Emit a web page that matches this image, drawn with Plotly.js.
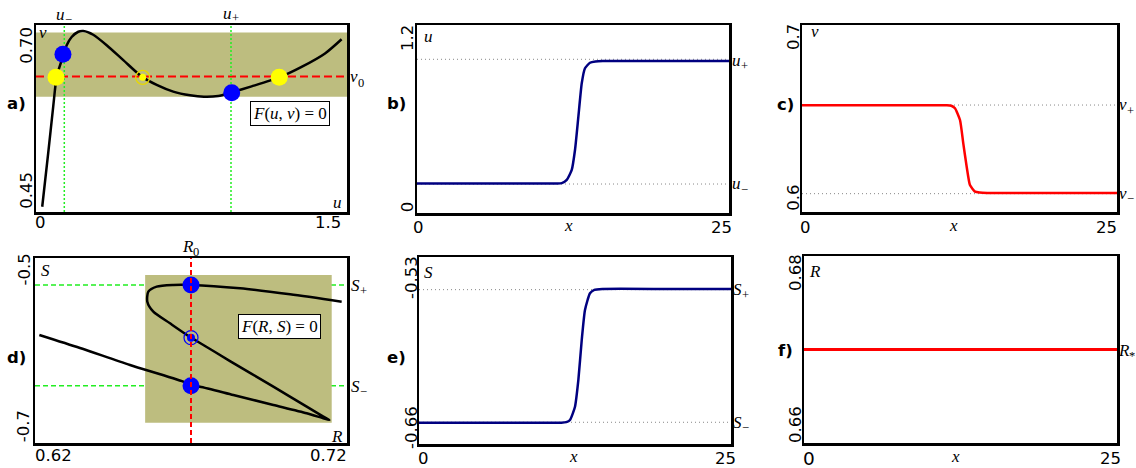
<!DOCTYPE html>
<html><head><meta charset="utf-8">
<script src="https://cdn.plot.ly/plotly-3.0.1.min.js"></script>
<style>html,body{margin:0;padding:0;background:#fff}#chart{width:1136px;height:468px}</style>
</head><body><div id="chart"></div>
<script>
// ---------- Panel a: nullcline F(u,v)=0 ----------
const aU = [0.030,0.059,0.083,0.100,0.124,0.148,0.172,0.204,0.228,0.276,0.341,0.421,0.510,0.582,0.662,0.743,0.810,0.879,0.944,1.040,1.173,1.281,1.394,1.474];
const aV = [0.457,0.529,0.591,0.631,0.653,0.673,0.684,0.691,0.692,0.687,0.673,0.653,0.631,0.620,0.611,0.606,0.604,0.605,0.610,0.618,0.630,0.644,0.662,0.681];
const aBand = [0.604, 0.690];
const aV0 = 0.631;
const aUminus = 0.1365, aUplus = 0.9405;
const aBlueU = [0.130, 0.944], aBlueV = [0.661, 0.6095];
const aYellowU = [0.0965, 1.173], aYellowV = [0.630, 0.630];
const aMidU = 0.5145, aMidV = 0.630;

// ---------- Panel b: u(x) ----------
const bX = [0, 5, 10, 11.2, 11.6, 12.0, 12.4, 12.66, 12.93, 13.2, 13.46, 13.86, 14.3, 14.9, 20, 25];
const bU = [0.189, 0.189, 0.189, 0.189, 0.191, 0.211, 0.275, 0.402, 0.615, 0.828, 0.924, 0.959, 0.967, 0.970, 0.970, 0.970];
const bUplus = 0.981, bUminus = 0.185;

// ---------- Panel c: v(x) ----------
const cX = [0, 5, 10, 11.5, 11.85, 12.14, 12.54, 12.80, 13.07, 13.33, 13.73, 14.1, 14.7, 20, 25];
const cV = [0.6571, 0.6571, 0.6571, 0.6571, 0.6568, 0.6555, 0.6492, 0.6367, 0.6242, 0.6144, 0.6109, 0.6104, 0.6102, 0.6102, 0.6102];
const cVplus = 0.6572, cVminus = 0.6098;

// ---------- Panel d: nullcline F(R,S)=0 ----------
const dR = [0.62139,0.63442,0.65045,0.66754,0.67,0.67288,0.68357,0.69639,0.70708,0.71242,0.71434,0.71242,0.70708,0.69639,0.6825,0.67182,0.67,0.66327,0.65793,0.6560,0.65633,0.6590,0.66434,0.67,0.68571,0.70173,0.71829];
const dS = [-0.58324,-0.5973,-0.61568,-0.63369,-0.6380,-0.6391,-0.6481,-0.6589,-0.6679,-0.6733,-0.6751,-0.6715,-0.6607,-0.6391,-0.6114,-0.5897,-0.5861,-0.5706,-0.5580,-0.5472,-0.5364,-0.5310,-0.5292,-0.5292,-0.5328,-0.5393,-0.5472];
const dBandR = [0.6553, 0.7151], dBandS = [-0.678, -0.5184];
const dR0 = 0.67;
const dSplus = -0.5292, dSminus = -0.6380;
const dBlueR = [0.67, 0.67], dBlueS = [-0.5292, -0.6380];
const dMidR = 0.67, dMidS = -0.5861;

// ---------- Panel e: S(x) ----------
const eX = [0, 5, 10, 11.4, 11.8, 12.1, 12.5, 12.77, 13.04, 13.3, 13.7, 14.05, 14.7, 20, 25];
const eS = [-0.6452, -0.6452, -0.6452, -0.6452, -0.6448, -0.6433, -0.6341, -0.6155, -0.5877, -0.5668, -0.5552, -0.5528, -0.5522, -0.5522, -0.5522];
const eSplus = -0.5527, eSminus = -0.6449;

// ---------- Panel f: R(x) ----------
const fX = [0, 25];
const fR = [0.67, 0.67];

// ---------- tick labels ----------
const aXTicks = ['0', '1.5'], aYTicks = ['0.70', '0.45'];
const bXTicks = ['0', '25'], bYTicks = ['1.2', '0'];
const cXTicks = ['0', '25'], cYTicks = ['0.7', '0.6'];
const dXTicks = ['0.62', '0.72'], dYTicks = ['-0.5', '-0.7'];
const eXTicks = ['0', '25'], eYTicks = ['-0.53', '-0.66'];
const fXTicks = ['0', '25'], fYTicks = ['0.68', '0.66'];

const W = 1136, H = 468;
const PX = v => v / W, PY = v => 1 - v / H;

function axis(d0, d1, range, anchor, isY) {
  return {
    domain: isY ? [PY(d1), PY(d0)] : [PX(d0), PX(d1)],
    range: range, anchor: anchor,
    showline: true, mirror: true, linecolor: 'black', linewidth: 2.5,
    showgrid: false, zeroline: false, showticklabels: false, ticks: '', fixedrange: true
  };
}

const SP = {shape: 'spline', smoothing: 0.7};
const SP2 = {shape: 'spline', smoothing: 0.5};
const traces = [
  // a
  {x: aU, y: aV, xaxis: 'x', yaxis: 'y', mode: 'lines', line: Object.assign({color: 'black', width: 2.5}, SP)},
  {x: aBlueU, y: aBlueV, xaxis: 'x', yaxis: 'y', mode: 'markers', marker: {color: '#0000ff', size: 17}},
  {x: aYellowU, y: aYellowV, xaxis: 'x', yaxis: 'y', mode: 'markers', marker: {color: '#ffff00', size: 17}},
  {x: [aMidU], y: [aMidV], xaxis: 'x', yaxis: 'y', mode: 'markers', marker: {symbol: 'circle-open', color: '#e8d800', size: 14, line: {width: 1.4}}},
  {x: [aMidU], y: [aMidV], xaxis: 'x', yaxis: 'y', mode: 'markers', marker: {color: '#ffff00', size: 7}},
  // b
  {x: bX, y: bU, xaxis: 'x2', yaxis: 'y2', mode: 'lines', line: Object.assign({color: '#000080', width: 2.5}, SP2)},
  // c
  {x: cX, y: cV, xaxis: 'x3', yaxis: 'y3', mode: 'lines', line: Object.assign({color: '#ff0000', width: 2.5}, SP2)},
  // d
  {x: dR, y: dS, xaxis: 'x4', yaxis: 'y4', mode: 'lines', line: Object.assign({color: 'black', width: 2.5}, SP)},
  {x: dBlueR, y: dBlueS, xaxis: 'x4', yaxis: 'y4', mode: 'markers', marker: {color: '#0000ff', size: 17}},
  {x: [dMidR], y: [dMidS], xaxis: 'x4', yaxis: 'y4', mode: 'markers', marker: {symbol: 'circle-open', color: '#0000ff', size: 14, line: {width: 1.2}}},
  {x: [dMidR], y: [dMidS], xaxis: 'x4', yaxis: 'y4', mode: 'markers', marker: {color: '#0000ff', size: 8}},
  // e
  {x: eX, y: eS, xaxis: 'x5', yaxis: 'y5', mode: 'lines', line: Object.assign({color: '#000080', width: 2.5}, SP2)},
  // f
  {x: fX, y: fR, xaxis: 'x6', yaxis: 'y6', mode: 'lines', line: {color: '#ff0000', width: 3}}
];

const OLIVE = '#bdbd7f';
const GREY = {color: '#888888', width: 1, dash: '1px,3px'};
function hline(ax, yv, line, layer) { return {type: 'line', xref: ax[0] + ' domain', yref: ax[1], x0: 0, x1: 1, y0: yv, y1: yv, line: line, layer: layer || 'below'}; }
function vline(ax, xv, line, layer) { return {type: 'line', xref: ax[0], yref: ax[1] + ' domain', x0: xv, x1: xv, y0: 0, y1: 1, line: line, layer: layer || 'below'}; }

const shapes = [
  {type: 'rect', xref: 'x domain', yref: 'y', x0: 0, x1: 1, y0: aBand[0], y1: aBand[1], fillcolor: OLIVE, line: {width: 0}, layer: 'below'},
  hline(['x', 'y'], aV0, {color: '#ff0000', width: 2, dash: '8px,4px'}),
  vline(['x', 'y'], aUminus, {color: '#22ee22', width: 1.5, dash: '2px,2px'}),
  vline(['x', 'y'], aUplus, {color: '#22ee22', width: 1.5, dash: '2px,2px'}),
  hline(['x2', 'y2'], bUplus, GREY), hline(['x2', 'y2'], bUminus, GREY),
  hline(['x3', 'y3'], cVplus, GREY), hline(['x3', 'y3'], cVminus, GREY),
  {type: 'rect', xref: 'x4', yref: 'y4', x0: dBandR[0], x1: dBandR[1], y0: dBandS[0], y1: dBandS[1], fillcolor: OLIVE, line: {width: 0}, layer: 'below'},
  hline(['x4', 'y4'], dSplus, {color: '#22ee22', width: 1.5, dash: '5px,3px'}),
  hline(['x4', 'y4'], dSminus, {color: '#22ee22', width: 1.5, dash: '5px,3px'}),
  vline(['x4', 'y4'], dR0, {color: '#ff0000', width: 2, dash: '5px,3px'}, 'above'),
  hline(['x5', 'y5'], eSplus, GREY), hline(['x5', 'y5'], eSminus, GREY)
];

const SANS = 'DejaVu Sans', SERIF = 'Liberation Serif';
const ann = [];
function lab(text, x, y, o) {
  o = o || {};
  ann.push({text: text, xref: 'paper', yref: 'paper', x: PX(x), y: PY(y), showarrow: false,
    xanchor: o.xa || 'center', yanchor: 'middle', textangle: o.rot || 0,
    font: {family: o.fam || SANS, size: o.size || 16.5, color: 'black'},
    bgcolor: o.bg, bordercolor: o.bc, borderwidth: o.bw || 0, borderpad: o.bp || 0});
}
// italic symbol with a subscript, drawn as two sized texts (left edge x, middle y)
const GW = {u: 8.5, v: 7.6, R: 10.6, S: 8.7};
function subLab(main, sub, x, y) {
  lab('<i>' + main + '</i>', x, y, {fam: SERIF, size: 17, xa: 'left'});
  lab(sub, x + GW[main] + 0.5, y + 5.5, {fam: SERIF, size: 12.5, xa: 'left'});
}
// panel letters
[['a)', 16.7, 103], ['b)', 396, 103], ['c)', 785, 104], ['d)', 16, 357], ['e)', 396, 357], ['f)', 785, 350]]
  .forEach(p => lab('<b>' + p[0] + '</b>', p[1], p[2], {size: 16.5}));
// y tick labels (rotated)
const R = {rot: -90};
lab(aYTicks[0], 27, 45.8, R); lab(aYTicks[1], 27, 190.8, R);
lab(bYTicks[0], 407.5, 38.5, R); lab(bYTicks[1], 407.5, 206.7, R);
lab(cYTicks[0], 793.5, 37.5, R); lab(cYTicks[1], 793.5, 198.3, R);
lab(dYTicks[0], 23.5, 270, R); lab(dYTicks[1], 23.5, 426.7, R);
lab(eYTicks[0], 411, 278, R); lab(eYTicks[1], 411, 428, R);
lab(fYTicks[0], 795, 273, R); lab(fYTicks[1], 795, 425, R);
// x tick labels
lab(aXTicks[0], 40, 222); lab(aXTicks[1], 327.5, 222);
lab(bXTicks[0], 418, 227); lab(bXTicks[1], 721, 227);
lab(cXTicks[0], 805, 227); lab(cXTicks[1], 1106, 227);
lab(dXTicks[0], 53.5, 455.6); lab(dXTicks[1], 328, 455.6);
lab(eXTicks[0], 423, 458); lab(eXTicks[1], 725, 458);
lab(fXTicks[0], 809, 458.5, {size: 18.5}); lab(fXTicks[1], 1110.5, 458.5);
// axis-variable labels (math italic)
const M = {fam: SERIF, size: 17};
lab('<i>x</i>', 568, 225, M); lab('<i>x</i>', 953, 225, M); lab('<i>x</i>', 573, 456, M); lab('<i>x</i>', 955, 456, M);
lab('<i>v</i>', 43.3, 33, M); lab('<i>u</i>', 337, 202, M);
lab('<i>u</i>', 428, 37, M); lab('<i>v</i>', 815, 32, M);
lab('<i>S</i>', 45, 270, M); lab('<i>R</i>', 337, 436, M);
lab('<i>S</i>', 428, 272, M); lab('<i>R</i>', 815, 271, M);
subLab('u', '−', 56, 15); subLab('u', '+', 223, 13);
subLab('v', '0', 350, 77);
subLab('u', '+', 732, 61); subLab('u', '−', 732, 184);
subLab('v', '+', 1119, 105); subLab('v', '−', 1119, 193);
subLab('R', '0', 182, 246);
subLab('S', '+', 351, 285); subLab('S', '−', 351, 386);
subLab('S', '+', 733, 289); subLab('S', '−', 733, 422);
subLab('R', '*', 1118, 350);
// boxed equations
lab('<i>F</i>(<i>u</i>, <i>v</i>) = 0', 290, 113.3, {fam: SERIF, size: 17, bg: 'white', bc: 'black', bw: 1, bp: 2});
lab('<i>F</i>(<i>R</i>, <i>S</i>) = 0', 279.5, 326.7, {fam: SERIF, size: 17, bg: 'white', bc: 'black', bw: 1, bp: 2});

const layout = {
  width: W, height: H, margin: {l: 0, r: 0, t: 0, b: 0},
  paper_bgcolor: 'white', plot_bgcolor: 'white', showlegend: false,
  font: {family: SANS, size: 16, color: 'black'},
  xaxis: axis(36, 347, [0, 1.5], 'y', false), yaxis: axis(25, 212, [0.45, 0.70], 'x', true),
  xaxis2: axis(417, 729, [0, 25], 'y2', false), yaxis2: axis(25, 213, [0, 1.2], 'x2', true),
  xaxis3: axis(802, 1117, [0, 25], 'y3', false), yaxis3: axis(25, 212, [0.6, 0.7], 'x3', true),
  xaxis4: axis(35, 347, [0.62, 0.72], 'y4', false), yaxis4: axis(258, 443, [-0.7, -0.5], 'x4', true),
  xaxis5: axis(419, 731, [0, 25], 'y5', false), yaxis5: axis(257, 444, [-0.66, -0.53], 'x5', true),
  xaxis6: axis(804, 1117, [0, 25], 'y6', false), yaxis6: axis(256, 443, [0.66, 0.68], 'x6', true),
  shapes: shapes, annotations: ann
};
Plotly.newPlot('chart', traces, layout, {staticPlot: true, displayModeBar: false});
</script></body></html>
